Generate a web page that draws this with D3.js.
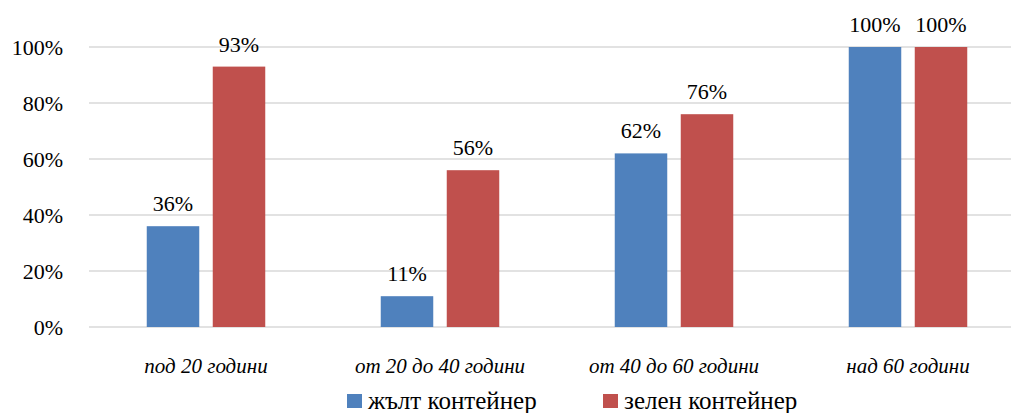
<!DOCTYPE html>
<html>
<head>
<meta charset="utf-8">
<script src="https://cdn.jsdelivr.net/npm/d3@7"></script>
</head>
<body style="margin:0">
<svg id="chart" width="1011" height="413"></svg>
<script>
// Age groups and share of respondents per container type
const categories = ["под 20 години", "от 20 до 40 години", "от 40 до 60 години", "над 60 години"];
const seriesNames = ["жълт контейнер", "зелен контейнер"];
const yellowValues = [36, 11, 62, 100];
const greenValues = [93, 56, 76, 100];
const yTicks = [0, 20, 40, 60, 80, 100];
const colors = ["#4F81BD", "#C0504D"];

const serif = '"Times New Roman"';
const svg = d3.select("#chart");
const plotLeft = 89, plotRight = 1025, plotTop = 47, plotBottom = 327;

const x = d3.scaleBand().domain(categories).range([plotLeft, plotRight]).paddingInner(0).paddingOuter(0);
const x1 = d3.scaleBand().domain(seriesNames).range([0, x.bandwidth()]).paddingInner(0.2045).paddingOuter(0.875);
const y = d3.scaleLinear().domain([0, 100]).range([plotBottom, plotTop]);

// Gridlines
svg.append("g").selectAll("line").data(yTicks).join("line")
  .attr("x1", plotLeft).attr("x2", plotRight)
  .attr("y1", d => y(d)).attr("y2", d => y(d))
  .attr("stroke", "#D9D9D9").attr("stroke-width", 1.3);

// Y axis labels, placed as plain text elements
svg.append("g").selectAll("text").data(yTicks).join("text")
  .attr("x", plotLeft - 26).attr("y", d => y(d)).attr("dy", "0.35em")
  .attr("text-anchor", "end")
  .style("font-family", serif).style("font-size", "22px").attr("fill", "#000")
  .text(d => d + "%");

// Bars
const rows = categories.map((c, i) => ({ cat: c, vals: [yellowValues[i], greenValues[i]] }));
const groups = svg.append("g").selectAll("g").data(rows).join("g")
  .attr("transform", d => `translate(${x(d.cat)},0)`);

groups.selectAll("rect").data(d => d.vals.map((v, j) => ({ v, s: seriesNames[j], j }))).join("rect")
  .attr("x", d => x1(d.s))
  .attr("width", x1.bandwidth())
  .attr("y", d => y(d.v))
  .attr("height", d => y(0) - y(d.v))
  .attr("fill", d => colors[d.j]);

groups.selectAll("text").data(d => d.vals.map((v, j) => ({ v, s: seriesNames[j] }))).join("text")
  .attr("x", d => x1(d.s) + x1.bandwidth() / 2)
  .attr("y", d => y(d.v) - 15)
  .attr("text-anchor", "middle")
  .style("font-family", serif).style("font-size", "22px")
  .attr("fill", "#000")
  .text(d => d.v + "%");

// Category labels
svg.append("g").selectAll("text").data(categories).join("text")
  .attr("x", d => x(d) + x.bandwidth() / 2).attr("y", plotBottom + 46)
  .attr("text-anchor", "middle")
  .style("font-family", serif).style("font-size", "21px").style("font-style", "italic")
  .attr("fill", "#000")
  .text(d => d);

// Legend
const legendX = [347, 603];
const legend = svg.append("g").selectAll("g").data(seriesNames).join("g")
  .attr("transform", (d, i) => `translate(${legendX[i]},0)`);
legend.append("rect").attr("x", 0).attr("y", 394).attr("width", 15).attr("height", 14)
  .attr("fill", (d, i) => colors[i]);
legend.append("text").attr("x", 21).attr("y", 409)
  .style("font-family", serif).style("font-size", "25px").attr("fill", "#000").text(d => d);
</script>
</body>
</html>
